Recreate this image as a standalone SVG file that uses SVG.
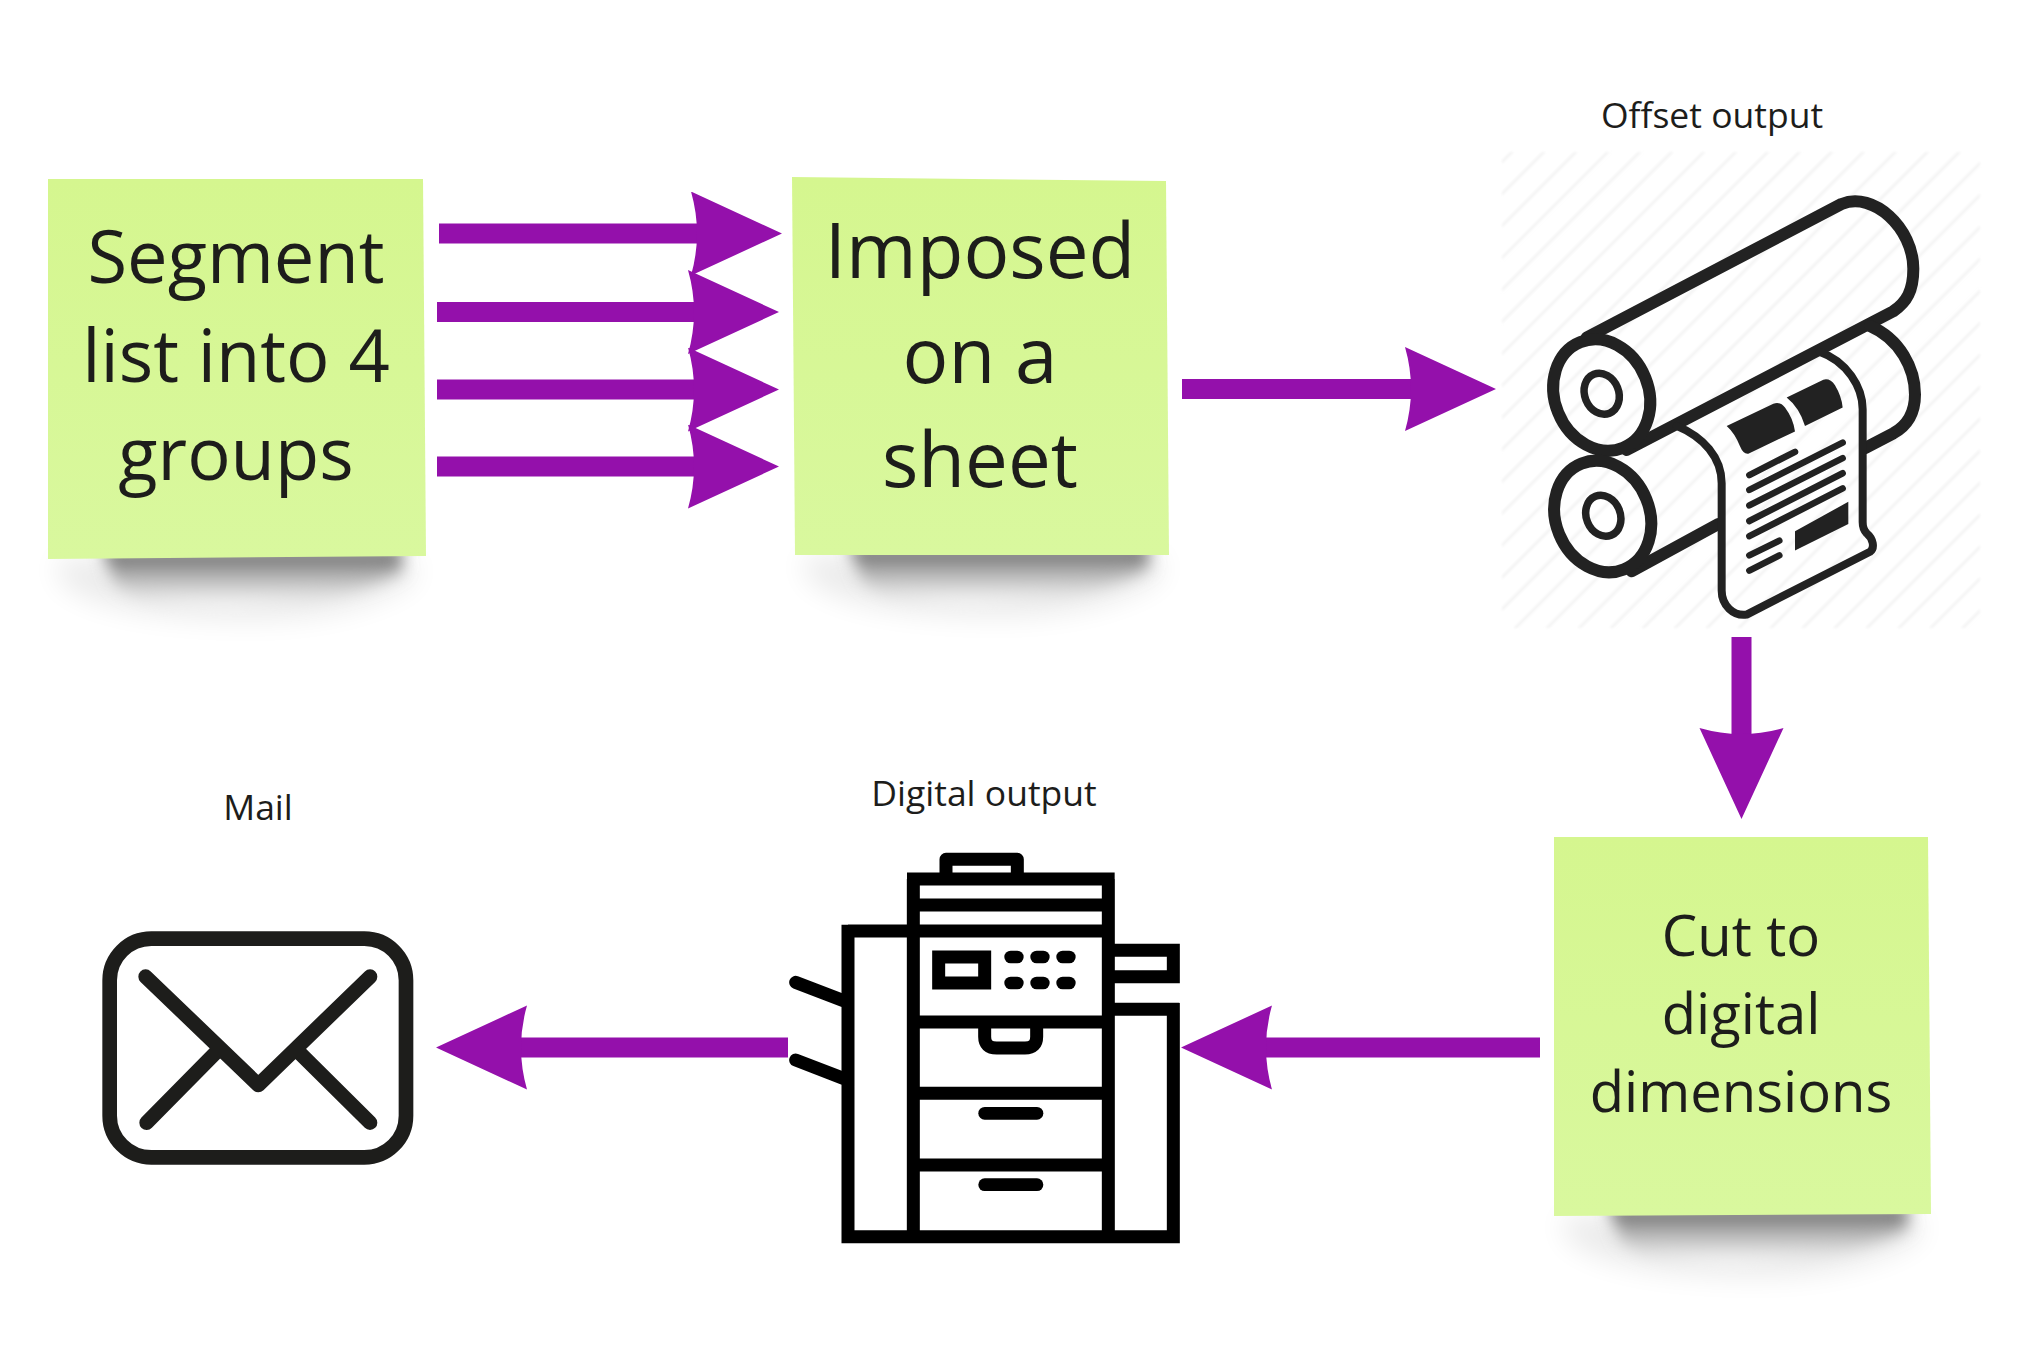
<svg xmlns="http://www.w3.org/2000/svg" width="2025" height="1350" viewBox="0 0 2025 1350">
<style>
text{font-family:"Open Sans","Noto Sans","DejaVu Sans",sans-serif;fill:#1d1d1b;text-anchor:middle}
.note{fill:url(#noteFill)}
.cap{font-size:35.500px}
.conn{stroke:#9410ab;stroke-width:20;fill:none;marker-end:url(#head)}
.ink{fill:none;stroke:#222;stroke-linecap:round;stroke-linejoin:round;vector-effect:non-scaling-stroke}
.solid{fill:#222}
.pr{fill:none;stroke:#000;stroke-width:39}
.pill{fill:#000}
.env{fill:none;stroke:#1d1d1b;stroke-width:44;stroke-linecap:round;stroke-linejoin:round}
</style>
<defs>
<linearGradient id="noteFill" x1="0" y1="0" x2="0" y2="1"><stop offset="0" stop-color="#d5f68f"/><stop offset="1" stop-color="#d9f89e"/></linearGradient>
<linearGradient id="shade" x1="0" y1="0" x2="0" y2="1"><stop offset="0" stop-color="#5a5a5a"/><stop offset=".4" stop-color="#a8a8a8"/><stop offset="1" stop-color="#fff"/></linearGradient>
<filter id="b8" x="-20%" y="-80%" width="140%" height="260%"><feGaussianBlur stdDeviation="14"/></filter>
<filter id="b4" x="-20%" y="-60%" width="140%" height="220%"><feGaussianBlur stdDeviation="8"/></filter>
<filter id="b1"><feGaussianBlur stdDeviation="1"/></filter>
<pattern id="hatch" width="22.6" height="22.6" patternUnits="userSpaceOnUse" patternTransform="rotate(-45)"><rect width="22.6" height="2.600" fill="#f3f3f3"/></pattern>
<marker id="head" markerUnits="userSpaceOnUse" markerWidth="96" markerHeight="90" refX="6" refY="42" orient="auto"><path d="M0 0L91 42L0 84Q12 42 0 0Z" fill="#9410ab"/></marker>
<g id="shadow">
<path d="M8 2H366V24Q300 66 180 62Q50 58 12 24Z" fill="#000" opacity=".08" filter="url(#b8)"/>
<path d="M54 -8H354V14Q300 44 190 50Q90 52 66 24Z" fill="url(#shade)" filter="url(#b4)"/>
</g>
</defs>
<rect width="2025" height="1350" fill="#fff"/>
<g id="connectors">
<line class="conn" x1="439" y1="233.500" x2="697" y2="233.500"/>
<line class="conn" x1="437" y1="312" x2="694" y2="312"/>
<line class="conn" x1="437" y1="389.500" x2="694" y2="389.500"/>
<line class="conn" x1="437" y1="466.500" x2="694" y2="466.500"/>
<line class="conn" x1="1182" y1="389" x2="1411" y2="389"/>
<line class="conn" x1="1741.500" y1="637" x2="1741.500" y2="734"/>
<line class="conn" x1="1540" y1="1047.500" x2="1266" y2="1047.500"/>
<line class="conn" x1="788" y1="1047.500" x2="521" y2="1047.500"/>
</g>
<g id="note-segment">
<use href="#shadow" x="48" y="557"/>
<polygon class="note" points="48,179 423,179 426,556 48,559"/>
<text x="236" y="283" font-size="72.300">Segment</text>
<text x="236" y="382" font-size="72.300">list into 4</text>
<text x="236" y="480" font-size="72.300">groups</text>
</g>
<g id="note-imposed">
<use href="#shadow" x="795" y="554"/>
<polygon class="note" points="792,177 1166,181 1169,555 795,555"/>
<text x="980" y="278" font-size="76.300">Imposed</text>
<text x="980" y="383" font-size="76.300">on a</text>
<text x="980" y="487" font-size="76.300">sheet</text>
</g>
<g id="note-cut">
<use href="#shadow" x="1554" y="1214"/>
<polygon class="note" points="1554,837 1928,837 1931,1214 1554,1216"/>
<text x="1741" y="956" font-size="56.200">Cut to</text>
<text x="1741" y="1034" font-size="56.200">digital</text>
<text x="1741" y="1112" font-size="56.200">dimensions</text>
</g>
<g id="offset-press">
<text class="cap" x="1712" y="128">Offset output</text>
<rect x="1502" y="152" width="478" height="476" fill="url(#hatch)" filter="url(#b1)"/>
<g transform="translate(1480 80) scale(.33333 .36996)">
<path class="ink" stroke-width="12" d="M320 696L1085 335C1180 300 1300 400 1300 510C1300 570 1280 600 1240 625L440 1000"/>
<path class="ink" stroke-width="12" d="M1170 665C1260 700 1305 780 1305 850C1305 900 1280 935 1240 955L1155 995"/>
<path class="ink" stroke-width="12" d="M715 1200L455 1328"/>
<path class="ink" stroke-width="8" d="M590 935C670 965 725 1020 725 1090V1380C725 1420 760 1450 800 1445L1170 1275C1185 1265 1180 1240 1160 1225Q1148 1215 1148 1195V890C1148 830 1100 760 1020 735"/>
<path class="solid" d="M740 935L880 875Q900 868 915 885Q940 915 945 950L805 1010Q790 1012 780 990Q765 955 740 935Z"/>
<path class="solid" d="M920 858L1030 810Q1050 805 1065 825Q1085 855 1088 885L975 935Q958 885 920 858Z"/>
<path class="solid" d="M945 1220L1105 1140V1200L945 1272Z"/>
<path class="ink" stroke-width="6.500" d="M808 1068L945 1005M808 1108L1088 980M808 1150L1088 1022M808 1192L1088 1063M808 1233L1088 1104M808 1285L898 1245M808 1326L898 1285"/>
</g>
<g fill="none" stroke="#222">
<ellipse cx="1601.700" cy="395" rx="47" ry="57" transform="rotate(-22 1601.700 395)" stroke-width="12"/>
<ellipse cx="1602.700" cy="516.500" rx="47" ry="57" transform="rotate(-22 1602.700 516.500)" stroke-width="12"/>
<ellipse cx="1601.700" cy="393.700" rx="17" ry="21" transform="rotate(-22 1601.700 393.700)" stroke-width="7.500"/>
<ellipse cx="1603.300" cy="515.800" rx="17" ry="21" transform="rotate(-22 1603.300 515.800)" stroke-width="7.500"/>
</g>
</g>
<g id="digital-printer">
<text class="cap" x="984" y="806">Digital output</text>
<g transform="translate(760 760) scale(.33333)">
<path class="pr" d="M264 513H460M264 494V1430H1240V729M460 357V1430M1045 357V1430M441 357H1064M460 435H1045M460 513H1045M460 786H1045M460 1000H1045M460 1215H1045M1045 571H1240V650H1045M1045 748H1258"/>
<path class="pr" stroke-linejoin="round" d="M558 357V298H772V357"/>
<rect class="pr" x="536" y="591" width="138" height="78"/>
<g class="pill">
<rect x="733" y="572" width="58" height="38" rx="19"/><rect x="811" y="572" width="58" height="38" rx="19"/><rect x="889" y="572" width="58" height="38" rx="19"/>
<rect x="733" y="650" width="58" height="38" rx="19"/><rect x="811" y="650" width="58" height="38" rx="19"/><rect x="889" y="650" width="58" height="38" rx="19"/>
<rect x="655" y="1041" width="195" height="38" rx="19"/><rect x="655" y="1255" width="195" height="38" rx="19"/>
</g>
<path class="pr" d="M674 800V830Q674 864 710 864H795Q830 864 830 830V800"/>
<path class="pr" stroke-linecap="round" d="M107 667L250 722M107 900L250 955"/>
</g>
</g>
<g id="mail">
<text class="cap" x="258" y="820">Mail</text>
<g transform="translate(80 770) scale(.33333)">
<rect class="env" x="89" y="506" width="889" height="656" rx="125"/>
<path class="env" d="M197 620L535 945L870 620M405 850L200 1058M660 850L870 1058"/>
</g>
</g>
</svg>
